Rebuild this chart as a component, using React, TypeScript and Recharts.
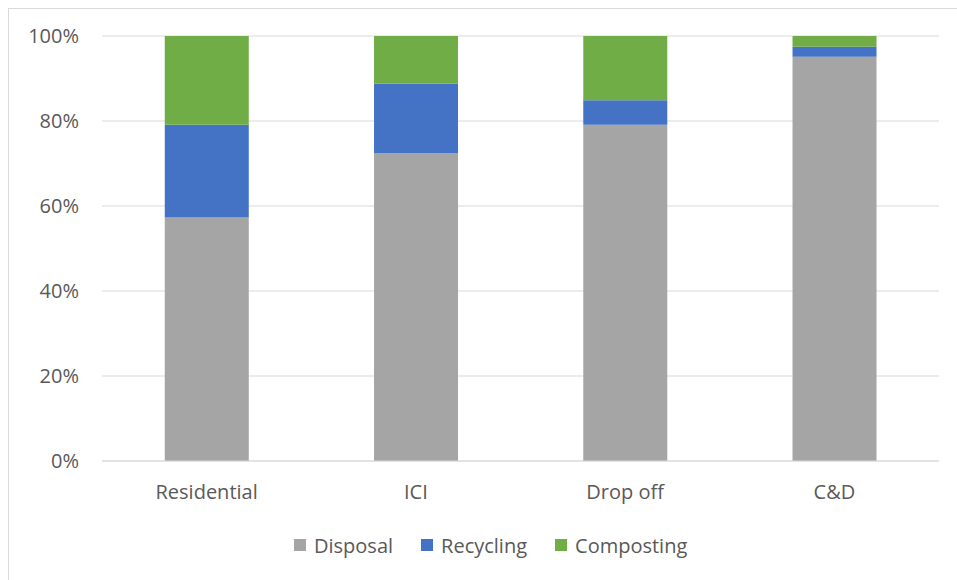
import React from 'react';
import { BarChart, Bar, XAxis, YAxis, CartesianGrid, Legend } from 'recharts';

const categories = ['Residential', 'ICI', 'Drop off', 'C&D'];
const disposal = [57.3, 72.5, 79.1, 95.1];
const recycling = [21.8, 16.3, 5.8, 2.4];
const composting = [20.9, 11.2, 15.1, 2.5];
const yTicks = [0, 20, 40, 60, 80, 100];

const series = [
  { key: 'disposal', name: 'Disposal', color: '#A5A5A5' },
  { key: 'recycling', name: 'Recycling', color: '#4472C4' },
  { key: 'composting', name: 'Composting', color: '#70AD47' },
];

const data = categories.map((name, i) => ({
  name,
  disposal: disposal[i],
  recycling: recycling[i],
  composting: composting[i],
}));

const FONT = '"Open Sans", sans-serif';
const TEXT = '#595959';

const LegendRow = () => (
  <div
    style={{
      height: 30,
      display: 'flex',
      alignItems: 'center',
      paddingLeft: 285,
      fontFamily: FONT,
      fontSize: 20,
      color: TEXT,
    }}
  >
    {series.map((s) => (
      <div key={s.key} style={{ display: 'flex', alignItems: 'center', marginRight: 28 }}>
        <span style={{ width: 12, height: 12, background: s.color, marginRight: 8 }} />
        <span>{s.name}</span>
      </div>
    ))}
  </div>
);

export default function App() {
  return (
    <div
      style={{
        position: 'fixed',
        left: 8,
        top: 8,
        width: 948,
        height: 571,
        borderLeft: '1px solid #d9d9d9',
        borderTop: '1px solid #d9d9d9',
        background: '#fff',
      }}
    >
      <BarChart
        width={948}
        height={571}
        data={data}
        margin={{ top: 27, right: 18, left: 0, bottom: 20 }}
        barCategoryGap="30%"
      >
        <CartesianGrid vertical={false} stroke="#d9d9d9" />
        <XAxis
          dataKey="name"
          height={69}
          axisLine={{ stroke: '#d9d9d9' }}
          tickLine={false}
          tickMargin={18}
          tick={{ fill: TEXT, fontSize: 20, fontFamily: FONT }}
        />
        <YAxis
          width={93}
          domain={[0, 100]}
          ticks={yTicks}
          axisLine={false}
          tickLine={false}
          tickMargin={17}
          tickFormatter={(v) => `${v}%`}
          tick={{ fill: TEXT, fontSize: 20, fontFamily: FONT }}
        />
        <Legend verticalAlign="bottom" height={30} content={() => <LegendRow />} />
        {series.map((s) => (
          <Bar
            key={s.key}
            dataKey={s.key}
            name={s.name}
            stackId="a"
            fill={s.color}
            isAnimationActive={false}
          />
        ))}
      </BarChart>
    </div>
  );
}
